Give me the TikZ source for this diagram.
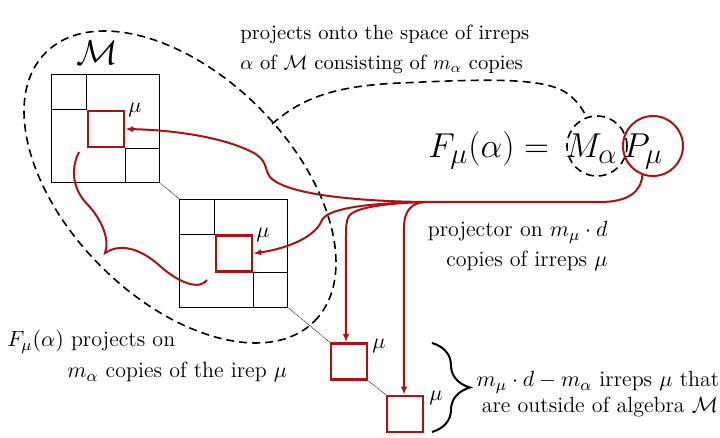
\documentclass[tikz,border=0pt]{standalone}
\usetikzlibrary{arrows.meta,decorations.pathreplacing,calc}
\definecolor{rd}{RGB}{172,18,18}
\begin{document}
\begin{tikzpicture}[x=0.5pt,y=-0.5pt,
  grid/.style={draw=black,line width=0.5pt},
  mat/.style={draw=black,line width=0.5pt,minimum size=54pt,inner sep=0pt},
  blk/.style={draw=rd,line width=1.3pt,minimum size=18pt,inner sep=0pt},
  conn/.style={draw=black!85,line width=0.3pt,dash pattern=on 0.6pt off 0.3pt},
  redarrow/.style={draw=rd,line width=1pt,-{Latex[length=4pt,width=3.2pt]}},
  redline/.style={draw=rd,line width=1pt},
  dsh/.style={draw=black,line width=0.8pt,dash pattern=on 4pt off 2.5pt},
  txt/.style={inner sep=0pt,font=\fontsize{11}{13}\selectfont},
  toptxt/.style={inner sep=0pt,font=\fontsize{10.3}{13}\selectfont},
  mulab/.style={inner sep=0pt,anchor=west,font=\fontsize{11}{13}\selectfont}]
\path[use as bounding box,fill=white] (0,0) rectangle (720,438);

% matrices
\node[mat] (M1) at (106,129) {};
\node[blk] (B1) at (106,129) {};
\draw[grid] (B1.north west) -- (B1.north west |- M1.north);
\draw[grid] (B1.north west) -- (B1.north west -| M1.west);
\draw[grid] (B1.south east) -- (B1.south east |- M1.south);
\draw[grid] (B1.south east) -- (B1.south east -| M1.east);

\node[mat] (M2) at (234,253.5) {};
\node[blk] (B2) at (234,253.5) {};
\draw[grid] (B2.north west) -- (B2.north west |- M2.north);
\draw[grid] (B2.north west) -- (B2.north west -| M2.west);
\draw[grid] (B2.south east) -- (B2.south east |- M2.south);
\draw[grid] (B2.south east) -- (B2.south east -| M2.east);

\node[blk] (S1) at (349,361.5) {};
\node[blk] (S2) at (405,414) {};

\draw[conn] (M1.south east) -- (M2.north west);
\draw[conn] (M2.south east) -- (S1.north west);
\draw[conn] (S1.south east) -- (S2.north west);

% mu labels
\node[mulab] (mu1) at (128,110) {$\mu$};
\node[mulab] (mu2) at (256,235) {$\mu$};
\node[mulab] (mu3) at (372,346) {$\mu$};
\node[mulab] (mu4) at (429,398) {$\mu$};

% calligraphic M
\node[inner sep=0pt,font=\fontsize{17}{20}\selectfont] (calM) at (97,53) {$\mathcal{M}$};

% dashed ellipse
\draw[dsh, rotate around={-45:(180,187)}] (180,187) ellipse [x radius=95pt, y radius=56pt];
\coordinate (e1) at (272,124);

% formula
\node[anchor=base west,inner sep=0pt,font=\fontsize{19}{23}\selectfont] (F) at (428,158) {$F_\mu(\alpha)=\hspace{3.5pt}M_\alpha\hspace{3pt}P_\mu$};
\node[circle,dsh,minimum size=30pt,inner sep=0pt] (Mc) at (597,146) {};
\node[circle,draw=rd,line width=1pt,minimum size=30pt,inner sep=0pt] (Pc) at (653,146) {};

\draw[dsh] (e1) .. controls (300,100) and (330,86) .. (400,83) .. controls (470,80) and (540,76) .. (565,92) .. controls (576,99) and (582,108) .. (Mc.110);

% red trunk and branches
\coordinate (j) at (425,202);
\draw[redline] (Pc.250) .. controls (641,192) and (628,202) .. (600,202) -- (j);
\draw[redarrow] (j) .. controls (340,201) and (283,192) .. (270,177) .. controls (264,169) and (268,160) .. (252,152) .. controls (220,136) and (170,130) .. (B1.east);
\draw[redarrow] (j) .. controls (370,203) and (328,208) .. (322,220) .. controls (316,236) and (290,248) .. (B2.east);
\draw[redarrow] (j) .. controls (390,203) and (355,207) .. (349,216) .. controls (346,221) and (346,228) .. (346,235) -- ([xshift=-1.5pt]S1.north);
\draw[redarrow] (j) .. controls (412,203) and (404,210) .. (404,228) -- ([xshift=-0.5pt]S2.north);

% red free curve
\draw[redline] (79,152) .. controls (70,170) and (73,190) .. (88,205) .. controls (102,220) and (110,240) .. (105,253) .. controls (120,243) and (140,248) .. (160,266) .. controls (180,284) and (200,290) .. (207,280);

% brace
\draw[decorate,decoration={brace,amplitude=19pt},line width=1pt] (432,343) -- (432,432);

% texts
\node[toptxt,anchor=base west] (t1) at (240,40) {projects onto the space of irreps};
\node[toptxt,anchor=base west] (t2) at (240,70) {$\alpha$ of $\mathcal{M}$ consisting of $m_\alpha$ copies};
\node[txt,anchor=base east] (r1) at (608,237) {projector on $m_\mu\cdot d$};
\node[txt,anchor=base east] (r2) at (608,267) {copies of irreps $\mu$};
\node[txt,anchor=base west] (l1) at (7,347) {$F_\mu(\alpha)$ projects on};
\node[txt,anchor=base west] (l2) at (67,378) {$m_\alpha$ copies of the irep $\mu$};
\node[txt,anchor=base] (b1) at (598,387) {$m_\mu\cdot d-m_\alpha$ irreps $\mu$ that};
\node[txt,anchor=base] (b2) at (600,413) {are outside of algebra $\mathcal{M}$};
\end{tikzpicture}
\end{document}
